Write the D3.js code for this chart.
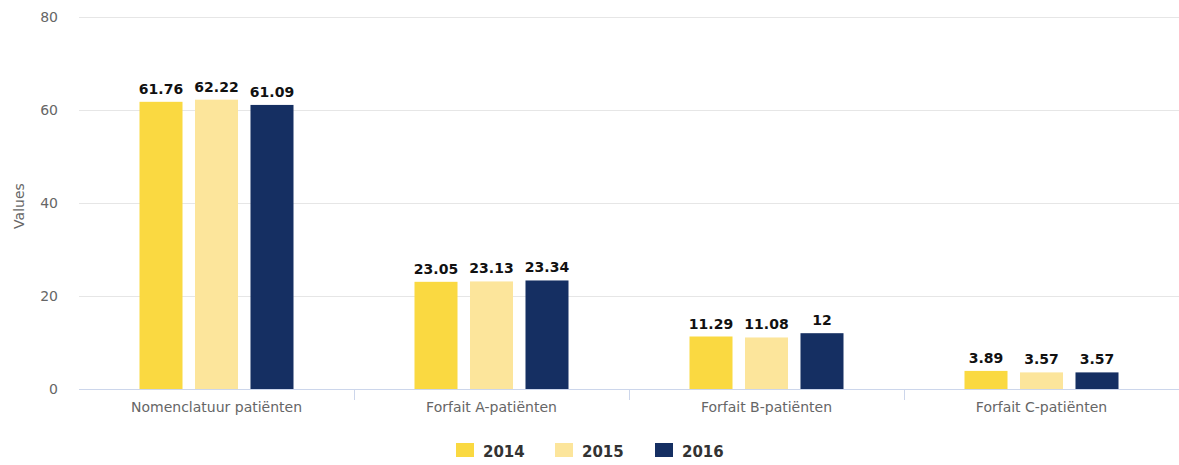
<!DOCTYPE html>
<html>
<head>
<meta charset="utf-8">
<script src="https://cdn.jsdelivr.net/npm/d3@7"></script>
<style>
  html, body { margin: 0; padding: 0; background: #fff; }
  svg { display: block; }
</style>
</head>
<body>
<svg id="chart" width="1179" height="465"></svg>
<script>
// Average share per patient type (values), per year
const categories = ["Nomenclatuur patiënten", "Forfait A-patiënten", "Forfait B-patiënten", "Forfait C-patiënten"];
const years = ["2014", "2015", "2016"];
const values2014 = [61.76, 23.05, 11.29, 3.89];
const values2015 = [62.22, 23.13, 11.08, 3.57];
const values2016 = [61.09, 23.34, 12, 3.57];
const yTicks = [0, 20, 40, 60, 80];
const yAxisTitle = "Values";

const seriesValues = [values2014, values2015, values2016];
const colors = ["#fad941", "#fce59b", "#152f62"];

const svg = d3.select("#chart");
const margin = { left: 79, right: 0, top: 17, bottom: 76 };
const width = 1179, height = 465;
const plotBottom = height - margin.bottom; // 389

const x = d3.scaleBand().domain(categories).range([margin.left, width - margin.right]).padding(0);
const y = d3.scaleLinear().domain([0, 80]).range([plotBottom, margin.top]);

// Gridlines
svg.append("g")
  .selectAll("line")
  .data(yTicks.filter(t => t !== 0))
  .join("line")
  .attr("x1", margin.left).attr("x2", width)
  .attr("y1", d => y(d) + 0.5).attr("y2", d => y(d) + 0.5)
  .attr("stroke", "#e6e6e6").attr("stroke-width", 1);

// Y tick labels
svg.append("g")
  .selectAll("text")
  .data(yTicks)
  .join("text")
  .attr("x", 58).attr("y", d => y(d) + 5)
  .attr("text-anchor", "end")
  .attr("font-family", "DejaVu Sans, sans-serif")
  .attr("font-size", 14)
  .attr("fill", "#666")
  .text(d => d);

// Y axis title
svg.append("text")
  .attr("transform", `translate(24,${(margin.top + plotBottom) / 2 + 3}) rotate(-90)`)
  .attr("text-anchor", "middle")
  .attr("font-family", "DejaVu Sans, sans-serif")
  .attr("font-size", 14)
  .attr("fill", "#666")
  .text(yAxisTitle);

// X axis: baseline, category ticks and labels
const xAxis = d3.axisBottom(x).tickSize(0).tickPadding(13);
const xg = svg.append("g").attr("transform", `translate(0,${plotBottom})`).call(xAxis);
xg.select(".domain").attr("stroke", "#ccd6eb").attr("d", `M${margin.left},0.5H${width}`);
xg.selectAll(".tick text")
  .attr("font-family", "DejaVu Sans, sans-serif")
  .attr("font-size", 14)
  .attr("fill", "#666");
svg.append("g")
  .selectAll("line")
  .data(categories.slice(1))
  .join("line")
  .attr("x1", d => Math.round(x(d)) + 0.5).attr("x2", d => Math.round(x(d)) + 0.5)
  .attr("y1", plotBottom).attr("y2", plotBottom + 11)
  .attr("stroke", "#ccd6eb");

// Bars within each category
const groupWidth = 154;
const xInner = d3.scaleBand().domain(years).range([0, groupWidth]).paddingInner(0.225).paddingOuter(0);
const groupOffset = (x.bandwidth() - groupWidth) / 2;

const groups = svg.append("g")
  .selectAll("g")
  .data(years.map((yr, i) => ({ year: yr, values: seriesValues[i], color: colors[i] })))
  .join("g");

groups.selectAll("rect")
  .data(s => s.values.map((v, j) => ({ v, cat: categories[j], year: s.year, color: s.color })))
  .join("rect")
  .attr("x", d => x(d.cat) + groupOffset + xInner(d.year))
  .attr("y", d => y(d.v))
  .attr("width", xInner.bandwidth())
  .attr("height", d => plotBottom - y(d.v))
  .attr("fill", d => d.color);

// Data labels
groups.selectAll("text")
  .data(s => s.values.map((v, j) => ({ v, cat: categories[j], year: s.year })))
  .join("text")
  .attr("x", d => x(d.cat) + groupOffset + xInner(d.year) + xInner.bandwidth() / 2)
  .attr("y", d => y(d.v) - 8)
  .attr("text-anchor", "middle")
  .attr("font-family", "DejaVu Sans, sans-serif")
  .attr("font-size", 14)
  .attr("font-weight", "bold")
  .attr("fill", "#111")
  .text(d => d.v);

// Legend
const legendItems = [
  { label: years[0], color: colors[0], x: 456 },
  { label: years[1], color: colors[1], x: 555 },
  { label: years[2], color: colors[2], x: 655 }
];
const lg = svg.append("g");
lg.selectAll("rect")
  .data(legendItems)
  .join("rect")
  .attr("x", d => d.x).attr("y", 443)
  .attr("width", 18).attr("height", 14)
  .attr("fill", d => d.color);
lg.selectAll("text")
  .data(legendItems)
  .join("text")
  .attr("x", d => d.x + 27).attr("y", 457)
  .attr("font-family", "DejaVu Sans, sans-serif")
  .attr("font-size", 15)
  .attr("font-weight", "bold")
  .attr("fill", "#333")
  .text(d => d.label);
</script>
</body>
</html>
